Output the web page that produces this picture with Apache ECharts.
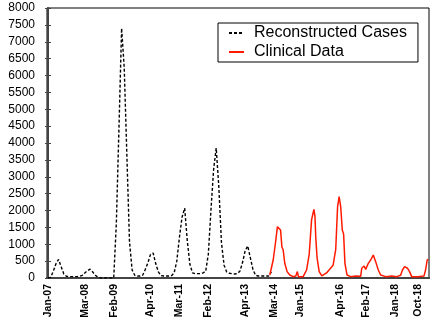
<!DOCTYPE html>
<html>
<head>
<meta charset="utf-8">
<script src="https://cdn.jsdelivr.net/npm/echarts@6/dist/echarts.min.js"></script>
<style>
  html, body { margin: 0; padding: 0; background: #fff; }
  #main { width: 436px; height: 327px; }
</style>
</head>
<body>
<div id="main"></div>
<script>
// months counted from Jan-07 (0) on the x axis
var tickMonths = [0, 14, 25, 39, 50, 61, 75, 86, 96, 111, 121, 132, 141];
var tickLabels = ['Jan-07', 'Mar-08', 'Feb-09', 'Apr-10', 'Mar-11', 'Feb-12', 'Apr-13',
                  'Mar-14', 'Jan-15', 'Apr-16', 'Feb-17', 'Jan-18', 'Oct-18'];

// reconstructed cases, one value per month from Jan-07
var reconstructed = [
  0, 20, 200, 420, 550, 330, 120, 50, 40, 40, 40, 40, 50, 80, 150, 220, 260, 180, 80, 20,
  0, 0, 0, 0, 0, 0, 1630, 4470, 7400, 6220, 3640, 1075, 237, 80, 60, 60, 80, 250, 450, 700,
  740, 420, 180, 70, 60, 60, 60, 70, 150, 500, 1200, 1800, 2070, 1100, 400, 150, 130, 130, 130, 150,
  200, 700, 2000, 3200, 3850, 2700, 1050, 380, 180, 140, 130, 120, 130, 200, 450, 800, 950, 600, 250, 80,
  60, 60, 60, 60, 60, 180
];

// clinical data (month position, cases)
var clinicalMonth = [
  84.4, 85.7, 86.7, 87.3, 87.8, 88.5, 89.0, 89.5, 90.1, 91.0, 92.0, 93.3, 94.3, 94.9, 95.3,
  97.1, 98.4, 99.4, 100.3, 100.8, 101.2, 101.6, 101.9, 102.4, 103.2, 104.2, 106.0, 107.2, 108.5,
  109.5, 110.2, 110.8, 111.0, 111.4, 112.0, 112.5, 113.0, 113.8, 115.2, 117.1, 119.0, 119.4,
  120.3, 120.9, 121.9, 122.8, 123.8, 124.7, 125.7, 126.6, 128.5, 130.8, 132.7, 134.2, 134.9,
  135.7, 136.8, 137.6, 138.4, 140.7, 143.1, 143.7, 144.3, 144.7
];
var clinicalCases = [
  90, 533, 1126, 1520, 1570, 1420, 927, 830, 435, 190, 90, 40, 60, 190, 40,
  40, 237, 700, 1720, 1900, 2035, 1820, 1200, 600, 190, 60, 150, 260, 380,
  850, 2110, 2410, 2460, 2110, 1420, 1300, 435, 90, 40, 60, 50, 287,
  355, 255, 435, 533, 680, 485, 237, 90, 40, 60, 40, 80, 237,
  335, 290, 190, 40, 40, 60, 237, 533, 550
];

var blackData = reconstructed.map(function(v, i) { return [i, v]; });
var redData = clinicalMonth.map(function(m, i) { return [m, clinicalCases[i]]; });

var chart = echarts.init(document.getElementById('main'));
var font = 'Liberation Sans, Arial, sans-serif';

var option = {
  animation: false,
  grid: {
    left: 47, right: 7, top: 8, bottom: 49,
    show: true, borderColor: '#000', borderWidth: 1
  },
  legend: {
    orient: 'vertical',
    left: 218, top: 23,
    backgroundColor: '#fff',
    borderColor: '#000', borderWidth: 1,
    padding: [2, 11, 2, 10],
    itemWidth: 15, itemHeight: 14, itemGap: 3,
    itemStyle: { opacity: 0 },
    textStyle: { fontFamily: font, fontSize: 16, color: '#000', padding: [0, 0, 0, 5] },
    data: ['Reconstructed Cases', 'Clinical Data']
  },
  xAxis: [{
    type: 'value',
    min: -0.4, max: 145,
    splitLine: { show: false },
    axisLine: { onZero: false, lineStyle: { color: '#444', width: 2 } },
    axisTick: { show: false },
    axisLabel: {
      customValues: tickMonths,
      rotate: 90,
      margin: 6,
      fontFamily: font, fontSize: 10.5, fontWeight: 'bold', color: '#000',
      formatter: function(v) {
        var k = tickMonths.indexOf(v);
        return k >= 0 ? tickLabels[k] : '';
      }
    }
  }, {
    type: 'value', position: 'top',
    min: -0.4, max: 145,
    splitLine: { show: false },
    axisLine: { lineStyle: { color: '#444', width: 2 } },
    axisTick: { show: false },
    axisLabel: { show: false }
  }],
  yAxis: [{
    type: 'value',
    min: 0, max: 8000, interval: 500,
    splitLine: { show: false },
    axisLine: { show: true, lineStyle: { color: '#444', width: 2 } },
    axisTick: { show: true, length: 3, lineStyle: { color: '#444', width: 1 } },
    axisLabel: {
      margin: 12, fontFamily: font, fontSize: 12, color: '#000',
      formatter: function(v) { return String(v); }
    }
  }, {
    type: 'value', position: 'left',
    min: 0, max: 8000, interval: 500,
    splitLine: { show: false },
    axisLine: { show: false },
    axisTick: { show: true, inside: true, length: 3, lineStyle: { color: '#444', width: 1 } },
    axisLabel: { show: false }
  }],
  series: [{
    name: 'Reconstructed Cases',
    type: 'line',
    data: blackData,
    symbol: 'none',
    lineStyle: { color: '#000', width: 1.4, type: [3, 2] },
    itemStyle: { color: '#000' }
  }, {
    name: 'Clinical Data',
    type: 'line',
    data: redData,
    symbol: 'none',
    lineStyle: { color: '#ff1a00', width: 1.5 },
    itemStyle: { color: '#ff1a00' }
  }]
};
chart.setOption(option);
</script>
</body>
</html>
